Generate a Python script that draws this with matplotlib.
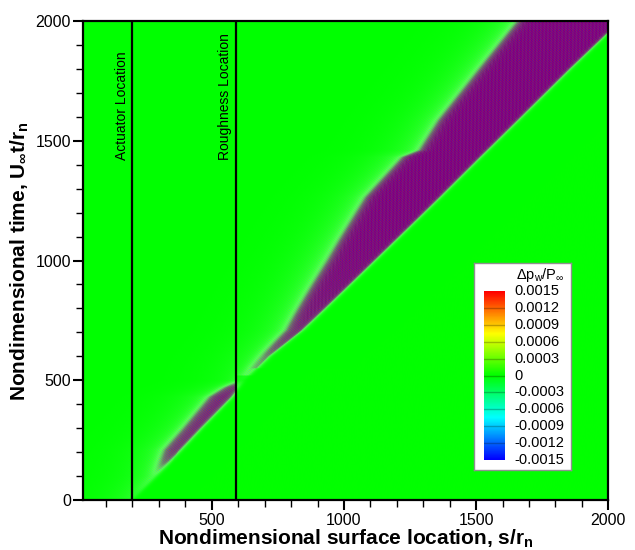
import numpy as np
import matplotlib.pyplot as plt
from matplotlib.colors import LinearSegmentedColormap

plt.rcParams['font.family'] = ['Liberation Sans', 'DejaVu Sans']
plt.rcParams['mathtext.fontset'] = 'custom'
plt.rcParams['mathtext.rm'] = 'Liberation Sans'
plt.rcParams['mathtext.it'] = 'Liberation Sans'
plt.rcParams['mathtext.bf'] = 'Liberation Sans:bold'

# wave packet in the s-t plane: time, leading edge, trailing edge, amplitude, trailing halo
band_t = np.array([0, 100, 210, 300, 430, 470, 500, 600, 710, 889, 1000, 1086, 1265, 1432, 1461, 1587, 1670, 1800, 2000])
band_lead = np.array([200, 290, 380, 455, 569, 600, 622, 712, 835, 999, 1101, 1180, 1345, 1497, 1524, 1640, 1716, 1835, 2025])
band_trail = np.array([200, 282, 335, 410, 510, 560, 605, 690, 800, 908, 975, 1023, 1126, 1265, 1330, 1402, 1462, 1555, 1700])
band_amp = np.array([0.0, 0.0006, 0.0028, 0.0035, 0.004, 0.003, 0.0008, 0.0014, 0.0035, 0.009, 0.012, 0.015, 0.02, 0.02, 0.02, 0.02, 0.02, 0.02, 0.02])
halo_amp = np.array([0.0004, 0.0005, 0.0006, 0.0006, 0.0006, 0.0004, 0.0003, 0.0005, 0.0007, 0.0009, 0.001, 0.001, 0.001, 0.001, 0.001, 0.001, 0.001, 0.001, 0.001])

actuator_s = 200
roughness_s = 590

levels = np.round(np.arange(-0.0015, 0.00151, 0.0003), 4)
level_labels = ['-0.0015', '-0.0012', '-0.0009', '-0.0006', '-0.0003', '0',
                '0.0003', '0.0006', '0.0009', '0.0012', '0.0015']

# tecplot-like "small rainbow"
cmap = LinearSegmentedColormap.from_list(
    'small_rainbow', ['#0000ff', '#00ffff', '#00ff00', '#ffff00', '#ff0000'])
vmin, vmax = levels[0], levels[-1]


def sig(x):
    return 1.0 / (1.0 + np.exp(-np.clip(x, -50, 50)))


s = np.linspace(14, 2000, 2600)
t = np.linspace(0, 2000, 2400)
S, T = np.meshgrid(s, t)
lead = np.interp(T, band_t, band_lead)
trail = np.interp(T, band_t, band_trail)
amp = np.interp(T, band_t, band_amp)
halo = np.interp(T, band_t, halo_amp)
d_lead = lead - S
d_trail = S - trail

env = amp * sig(d_lead / 6.0) * sig(d_trail / 14.0)
env += halo * sig(d_lead / 6.0) * np.exp(np.minimum(d_trail, 0) / 90.0) * (d_trail < 40)
env += 0.0007 * np.exp(-np.abs(d_lead) / 10.0) * (T > 550)
# the roughness cuts the upstream packet
env *= np.where((T < 520) & (S > roughness_s), 0.3, 1.0)
dp = env * np.sin(2 * np.pi * (S - 0.6 * T) / 6.0)

fig = plt.figure(figsize=(6.35, 5.5), dpi=100)
ax = fig.add_axes([0.1312, 0.0909, 0.8268, 0.8709])
ax.imshow(dp, extent=(14, 2000, 0, 2000), origin='lower', aspect='auto',
          cmap=cmap, vmin=vmin, vmax=vmax, interpolation='antialiased')
ax.axvline(actuator_s, color='k', lw=1.6)
ax.axvline(roughness_s, color='k', lw=1.6)
ax.text(actuator_s - 14, 1420, 'Actuator Location', rotation=90,
        ha='right', va='bottom', fontsize=10)
ax.text(roughness_s - 14, 1420, 'Roughness Location', rotation=90,
        ha='right', va='bottom', fontsize=10)

ax.set_xlim(14, 2000)
ax.set_ylim(0, 2000)
ax.set_xticks([500, 1000, 1500, 2000])
ax.set_xticks(np.arange(100, 2001, 100), minor=True)
ax.set_yticks([0, 500, 1000, 1500, 2000])
ax.set_yticks(np.arange(0, 2001, 100), minor=True)
ax.tick_params(which='major', length=7, width=1.5, labelsize=11.5,
               direction='out', pad=2)
ax.tick_params(which='minor', length=5, width=1.0, direction='out')
for sp in ax.spines.values():
    sp.set_linewidth(1.6)
ax.set_xlabel(r'Nondimensional surface location, s/r$_\mathbf{n}$',
              fontsize=15, fontweight='bold', labelpad=0)
ax.set_ylabel(r'Nondimensional time, U$_\mathbf{\infty}$t/r$_\mathbf{n}$',
              fontsize=15, fontweight='bold', labelpad=3)

# contour legend
box = fig.add_axes([474 / 635, 80 / 550, 97 / 635, 207 / 550])
box.set_xticks([])
box.set_yticks([])
for sp in box.spines.values():
    sp.set_color('#909090')
    sp.set_linewidth(1.0)
box.text(0.68, 0.94, r'$\Delta$p$_w$/P$_\infty$', transform=box.transAxes,
         ha='center', va='center', fontsize=10.5)

cbax = fig.add_axes([484 / 635, 90 / 550, 21 / 635, 169 / 550])
grad = np.linspace(vmin, vmax, 300).reshape(-1, 1)
cbax.imshow(grad, extent=(0, 1, vmin, vmax), origin='lower', aspect='auto',
            cmap=cmap, vmin=vmin, vmax=vmax)
for lv in levels[1:-1]:
    c = np.array(cmap((lv - vmin) / (vmax - vmin))[:3]) * 0.75
    cbax.axhline(lv, color=c, lw=1.0)
cbax.set_xlim(0, 1)
cbax.set_ylim(vmin, vmax)
cbax.set_xticks([])
cbax.set_yticks([])
for sp in cbax.spines.values():
    sp.set_visible(False)
for lv, lab in zip(levels, level_labels):
    cbax.text(1.45, lv, lab, transform=cbax.get_yaxis_transform(),
              ha='left', va='center', fontsize=10.5)

plt.savefig('out.png', dpi=100)
